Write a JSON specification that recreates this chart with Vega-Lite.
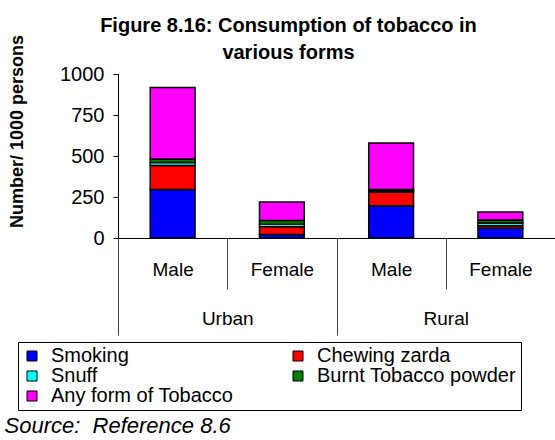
{
  "$schema": "https://vega.github.io/schema/vega-lite/v6.json",
  "width": 437,
  "height": 164,
  "autosize": {"type": "none"},
  "padding": {"left": 118, "top": 74, "right": 0, "bottom": 202},
  "background": "white",
  "config": {
    "view": {"stroke": null},
    "font": "Liberation Sans",
    "axis": {"labelColor": "black", "titleColor": "black", "grid": false}
  },
  "title": {
    "text": ["Figure 8.16: Consumption of tobacco in", "various forms"],
    "font": "Liberation Sans",
    "fontSize": 20,
    "fontWeight": "bold",
    "color": "black",
    "anchor": "middle",
    "lineHeight": 27,
    "offset": -29,
    "dx": -48
  },
  "data": {
    "values": [
      {"group": "Urban Male", "region": "Urban", "form": "Smoking", "rank": 1, "value": 295},
      {"group": "Urban Male", "region": "Urban", "form": "Chewing zarda", "rank": 2, "value": 147},
      {"group": "Urban Male", "region": "Urban", "form": "Snuff", "rank": 3, "value": 18},
      {"group": "Urban Male", "region": "Urban", "form": "Burnt Tobacco powder", "rank": 4, "value": 22},
      {"group": "Urban Male", "region": "Urban", "form": "Any form of Tobacco", "rank": 5, "value": 435},
      {"group": "Urban Female", "region": "Urban", "form": "Smoking", "rank": 1, "value": 22},
      {"group": "Urban Female", "region": "Urban", "form": "Chewing zarda", "rank": 2, "value": 47},
      {"group": "Urban Female", "region": "Urban", "form": "Snuff", "rank": 3, "value": 15},
      {"group": "Urban Female", "region": "Urban", "form": "Burnt Tobacco powder", "rank": 4, "value": 22},
      {"group": "Urban Female", "region": "Urban", "form": "Any form of Tobacco", "rank": 5, "value": 114},
      {"group": "Rural Male", "region": "Rural", "form": "Smoking", "rank": 1, "value": 197},
      {"group": "Rural Male", "region": "Rural", "form": "Chewing zarda", "rank": 2, "value": 82},
      {"group": "Rural Male", "region": "Rural", "form": "Snuff", "rank": 3, "value": 8},
      {"group": "Rural Male", "region": "Rural", "form": "Burnt Tobacco powder", "rank": 4, "value": 8},
      {"group": "Rural Male", "region": "Rural", "form": "Any form of Tobacco", "rank": 5, "value": 285},
      {"group": "Rural Female", "region": "Rural", "form": "Smoking", "rank": 1, "value": 60},
      {"group": "Rural Female", "region": "Rural", "form": "Chewing zarda", "rank": 2, "value": 15},
      {"group": "Rural Female", "region": "Rural", "form": "Snuff", "rank": 3, "value": 17},
      {"group": "Rural Female", "region": "Rural", "form": "Burnt Tobacco powder", "rank": 4, "value": 18},
      {"group": "Rural Female", "region": "Rural", "form": "Any form of Tobacco", "rank": 5, "value": 48}
    ]
  },
  "layer": [
    {
      "mark": {"type": "bar", "width": {"band": 0.41}, "stroke": "black", "strokeWidth": 1.5},
      "encoding": {
        "x": {
          "field": "group",
          "type": "nominal",
          "sort": ["Urban Male", "Urban Female", "Rural Male", "Rural Female"],
          "scale": {"paddingInner": 0, "paddingOuter": 0},
          "axis": {
            "orient": "bottom",
            "title": null,
            "labelExpr": "split(datum.label, ' ')[1]",
            "labelAngle": 0,
            "labelFontSize": 19,
            "labelPadding": -29,
            "tickBand": "extent",
            "tickSize": 51,
            "tickColor": "#444",
            "tickWidth": 1,
            "domainColor": "black",
            "domainWidth": 1
          }
        },
        "y": {
          "field": "value",
          "type": "quantitative",
          "stack": "zero",
          "scale": {"domain": [0, 1000]},
          "axis": {
            "title": "Number/ 1000 persons",
            "titleFontSize": 18,
            "titleFontWeight": "bold",
            "titleAngle": -90,
            "titleX": -101,
            "titleY": 57,
            "titleAlign": "center",
            "titleBaseline": "middle",
            "values": [0, 250, 500, 750, 1000],
            "format": "d",
            "labelFontSize": 20,
            "labelPadding": 9,
            "tickSize": 5,
            "tickColor": "black",
            "domainColor": "black"
          }
        },
        "color": {
          "field": "form",
          "type": "nominal",
          "scale": {
            "domain": ["Smoking", "Snuff", "Any form of Tobacco", "Chewing zarda", "Burnt Tobacco powder"],
            "range": ["#0000FF", "#00FFFF", "#FF00FF", "#FF0000", "#008000"]
          },
          "legend": {
            "orient": "none",
            "legendX": -100,
            "legendY": 268,
            "columns": 2,
            "title": null,
            "strokeColor": "black",
            "fillColor": "white",
            "padding": 4,
            "symbolType": "square",
            "symbolSize": 100,
            "symbolStrokeColor": "black",
            "symbolStrokeWidth": 1,
            "labelFontSize": 20,
            "labelColor": "black",
            "labelOffset": 9,
            "labelLimit": 400,
            "columnPadding": 54,
            "rowPadding": -1
          }
        },
        "order": {"field": "rank", "type": "quantitative"}
      }
    },
    {
      "mark": {"type": "point", "opacity": 0},
      "encoding": {
        "x": {
          "field": "region",
          "type": "nominal",
          "sort": ["Urban", "Rural"],
          "scale": {"paddingInner": 0, "paddingOuter": 0},
          "axis": {
            "orient": "bottom",
            "domain": false,
            "labelAngle": 0,
            "labelFontSize": 19,
            "labelPadding": -26,
            "tickBand": "extent",
            "tickSize": 97,
            "tickColor": "#444",
            "tickWidth": 1,
            "title": "Source:\u00a0 Reference 8.6",
            "titleFontSize": 22,
            "titleFontStyle": "italic",
            "titleFontWeight": "normal",
            "titleX": -114,
            "titleY": 194,
            "titleAlign": "left",
            "titleBaseline": "alphabetic"
          }
        }
      }
    }
  ],
  "resolve": {"scale": {"x": "independent"}, "axis": {"x": "independent"}}
}
